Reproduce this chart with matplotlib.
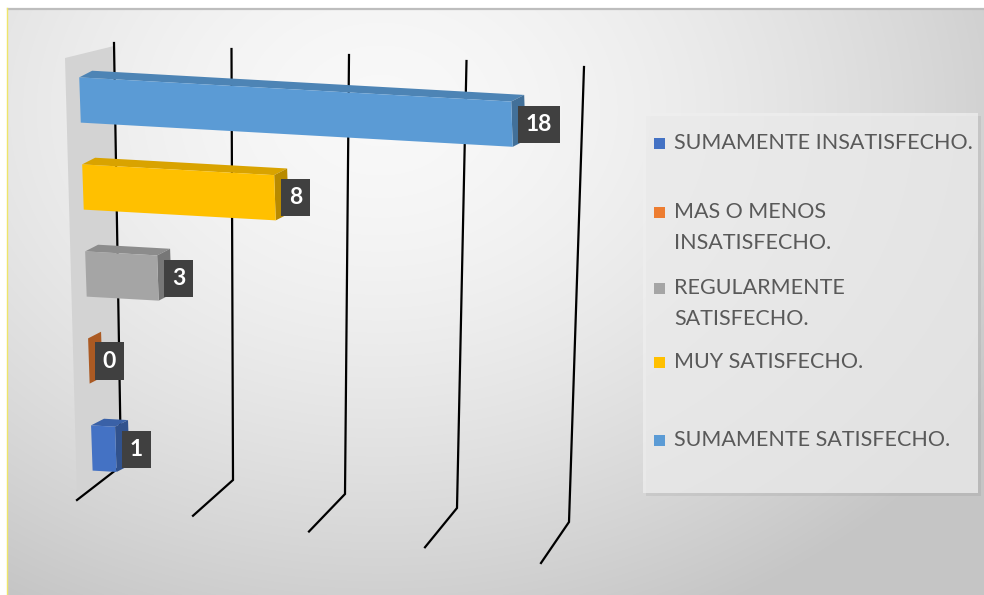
import numpy as np
import matplotlib
matplotlib.use('Agg')
import matplotlib.pyplot as plt
from matplotlib.patches import Polygon, Rectangle
from matplotlib.transforms import Affine2D
from matplotlib.colors import to_rgb

# data (bottom bar first)
categorias = ['SUMAMENTE INSATISFECHO.', 'MAS O MENOS INSATISFECHO.',
              'REGULARMENTE SATISFECHO.', 'MUY SATISFECHO.', 'SUMAMENTE SATISFECHO.']
valores = [1, 0, 3, 8, 18]
colores = ['#4472C4', '#ED7D31', '#A5A5A5', '#FFC000', '#5B9BD5']
leyenda = ['SUMAMENTE INSATISFECHO.', 'MAS O MENOS\nINSATISFECHO.',
           'REGULARMENTE\nSATISFECHO.', 'MUY SATISFECHO.', 'SUMAMENTE SATISFECHO.']
ticks = [0, 5, 10, 15, 20]


def shade(c, f):
    r, g, b = to_rgb(c)
    return (r * f, g * f, b * f)


fig = plt.figure(figsize=(9.84, 5.95), dpi=100)

# background layer in pixel units
bg = fig.add_axes([0, 0, 1, 1], zorder=0)
yy, xx = np.mgrid[8:595, 8:984]
d = np.clip(np.hypot((xx - 380) / 720, (yy - 110) / 560), 0, 1)
g = 0.975 - 0.20 * d ** 1.6
bg.imshow(np.dstack([g, g, g]), extent=(8, 984, 595, 8), aspect='auto', interpolation='bilinear')
bg.plot([8, 984], [8.5, 8.5], color='#bdbdbd', lw=1.6)
bg.plot([7, 7], [8, 595], color='#efe56a', lw=1)

# side wall + perspective gridlines
bg.add_patch(Polygon([(65, 58), (114, 46), (121, 466), (77, 496)], closed=True,
                     facecolor='#d3d3d3', edgecolor='none'))
for t in ticks:
    xs = [114 + 23.5 * t, 121 + 22.4 * t, 77 + 23.2 * t]
    ys = [43 + 1.2 * t, 466 + 2.8 * t, 500 + 3.15 * t]
    bg.plot(xs, ys, color='black', lw=1.6, solid_joinstyle='miter')

# legend
bg.add_patch(Rectangle((646, 116), 335, 380, facecolor='black', alpha=0.06, edgecolor='none'))
bg.add_patch(Rectangle((643, 113), 335, 380, facecolor='#efefef', alpha=0.75, edgecolor='none'))
leg_y = [143, 212, 288, 362, 440]
for etiqueta, color, y in zip(leyenda, colores, leg_y):
    bg.add_patch(Rectangle((654, y - 5.5), 11, 11, facecolor=color, edgecolor='none'))
    for k, linea in enumerate(etiqueta.split('\n')):
        bg.text(674, y + k * 31, linea, ha='left', va='center', fontsize=15.5,
                family='Lato', color='#595959')
bg.set_xlim(0, 984)
bg.set_ylim(595, 0)
bg.axis('off')

# bars
ax = fig.add_axes([80 / 984, (595 - 491.5) / 595, 480 / 984, 435 / 595], zorder=1)
ax.patch.set_visible(False)
ax.set_xlim(0, 20)
ax.set_ylim(-0.5, 4.5)
ax.axis('off')

ox, oy = ax.transData.transform((0, 4))
skew = ax.transData + Affine2D().translate(-ox, -oy).skew(np.arctan(-0.034), np.arctan(-0.056)).translate(ox, oy)

pos = np.arange(len(valores))
h = 0.26
dx, dy = 0.55, 0.085
ax.barh(pos, valores, height=2 * h, color=colores, transform=skew, clip_on=False, zorder=3)
for c, v, col in zip(pos, valores, colores):
    top = [(0, c + h), (v, c + h), (v + dx, c + h + dy), (dx, c + h + dy)]
    side = [(v, c - h), (v, c + h), (v + dx, c + h + dy), (v + dx, c - h + dy)]
    ax.add_patch(Polygon(top, closed=True, facecolor=shade(col, 0.85), edgecolor='none',
                         transform=skew, clip_on=False, zorder=2))
    ax.add_patch(Polygon(side, closed=True, facecolor=shade(col, 0.72), edgecolor='none',
                         transform=skew, clip_on=False, zorder=2))
    ax.annotate(str(v), xy=(v, c), xycoords=skew, xytext=(10, 0), textcoords='offset points',
                ha='left', va='center', fontsize=16.5, fontweight='bold', family='Lato',
                color='white', zorder=5,
                bbox=dict(boxstyle='square,pad=0.35', facecolor='#404040', edgecolor='none'))

ax.set_xlim(0, 20)
ax.set_ylim(-0.5, 4.5)

fig.savefig('out.png', dpi=100)
